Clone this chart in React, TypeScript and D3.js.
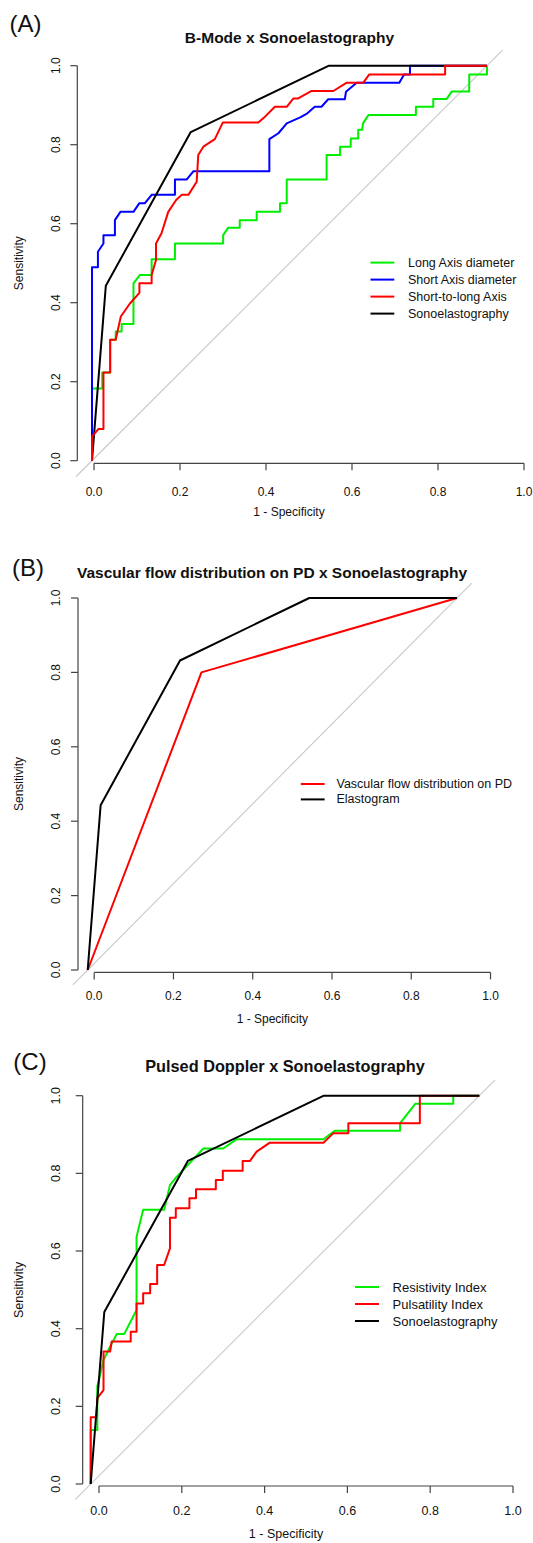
import React from 'react';
import * as d3 from 'd3';

type Pt = [number, number];

// ---------- DATA ----------
const tickValues = [0, 0.2, 0.4, 0.6, 0.8, 1.0];
const tickLabels = ['0.0', '0.2', '0.4', '0.6', '0.8', '1.0'];

// Sonoelastography / Elastogram curve (same in all panels)
const sonoCurve: Pt[] = [[0, 0], [0.035, 0.443], [0.25, 0.832], [0.6, 1], [1, 1]];

// Panel A
const longAxisA: Pt[] = [
  [0, 0], [0, 0.183], [0.026, 0.183], [0.026, 0.223], [0.046, 0.223], [0.046, 0.306], [0.06, 0.306],
  [0.06, 0.327], [0.075, 0.327], [0.075, 0.346], [0.105, 0.346], [0.105, 0.449], [0.121, 0.47],
  [0.151, 0.47], [0.151, 0.51], [0.21, 0.51], [0.21, 0.55], [0.332, 0.55], [0.332, 0.571],
  [0.345, 0.59], [0.374, 0.59], [0.374, 0.609], [0.417, 0.609], [0.417, 0.63], [0.476, 0.63],
  [0.476, 0.652], [0.493, 0.652], [0.493, 0.712], [0.594, 0.712], [0.594, 0.774], [0.628, 0.774],
  [0.628, 0.795], [0.655, 0.795], [0.655, 0.816], [0.674, 0.816], [0.674, 0.838], [0.684, 0.838],
  [0.686, 0.854], [0.7, 0.875], [0.82, 0.875], [0.82, 0.896], [0.864, 0.896], [0.864, 0.916],
  [0.898, 0.916], [0.911, 0.935], [0.955, 0.935], [0.955, 0.978], [1, 0.978], [1, 1],
];
const shortAxisA: Pt[] = [
  [0, 0], [0, 0.49], [0.015, 0.49], [0.015, 0.529], [0.029, 0.55], [0.029, 0.571], [0.058, 0.571],
  [0.058, 0.609], [0.072, 0.63], [0.105, 0.63], [0.12, 0.652], [0.134, 0.652], [0.151, 0.673],
  [0.21, 0.673], [0.21, 0.712], [0.24, 0.712], [0.257, 0.733], [0.449, 0.733], [0.449, 0.814],
  [0.472, 0.829], [0.493, 0.854], [0.527, 0.869], [0.543, 0.878], [0.564, 0.896], [0.581, 0.896],
  [0.598, 0.915], [0.64, 0.915], [0.643, 0.934], [0.67, 0.957], [0.778, 0.957], [0.79, 0.978],
  [0.805, 0.978], [0.805, 1], [1, 1],
];
const shortToLongA: Pt[] = [
  [0, 0], [0, 0.061], [0.016, 0.08], [0.029, 0.08], [0.029, 0.223], [0.046, 0.223], [0.046, 0.306],
  [0.06, 0.306], [0.073, 0.365], [0.096, 0.398], [0.12, 0.425], [0.12, 0.449], [0.151, 0.449],
  [0.151, 0.47], [0.162, 0.508], [0.162, 0.55], [0.176, 0.576], [0.193, 0.63], [0.213, 0.66],
  [0.227, 0.673], [0.244, 0.673], [0.265, 0.706], [0.269, 0.774], [0.282, 0.795], [0.311, 0.814],
  [0.331, 0.856], [0.421, 0.856], [0.438, 0.871], [0.463, 0.896], [0.493, 0.896], [0.51, 0.917],
  [0.522, 0.917], [0.556, 0.936], [0.611, 0.936], [0.645, 0.957], [0.687, 0.957], [0.702, 0.978],
  [0.894, 0.978], [0.894, 1], [1, 1],
];

// Panel B
const vascularB: Pt[] = [[0, 0], [0.308, 0.8], [1, 1]];

// Panel C
const resistivityC: Pt[] = [
  [0, 0], [0, 0.139], [0.017, 0.139], [0.017, 0.251], [0.033, 0.319], [0.05, 0.354], [0.067, 0.386],
  [0.086, 0.386], [0.118, 0.448], [0.118, 0.637], [0.135, 0.706], [0.189, 0.706], [0.204, 0.77],
  [0.221, 0.791], [0.29, 0.864], [0.341, 0.864], [0.376, 0.888], [0.599, 0.888], [0.629, 0.91],
  [0.796, 0.91], [0.796, 0.929], [0.835, 0.979], [0.933, 0.979], [0.933, 1], [1, 1],
];
const pulsatilityC: Pt[] = [
  [0, 0], [0, 0.172], [0.015, 0.172], [0.017, 0.221], [0.033, 0.242], [0.033, 0.341], [0.05, 0.341],
  [0.054, 0.367], [0.103, 0.367], [0.103, 0.392], [0.118, 0.392], [0.118, 0.465], [0.135, 0.465],
  [0.135, 0.491], [0.153, 0.491], [0.153, 0.515], [0.171, 0.515], [0.171, 0.564], [0.189, 0.564],
  [0.204, 0.607], [0.204, 0.686], [0.219, 0.686], [0.219, 0.71], [0.254, 0.71], [0.254, 0.736],
  [0.271, 0.736], [0.271, 0.759], [0.322, 0.759], [0.322, 0.783], [0.34, 0.783], [0.34, 0.807],
  [0.391, 0.807], [0.391, 0.832], [0.41, 0.832], [0.427, 0.856], [0.461, 0.879], [0.599, 0.879],
  [0.624, 0.903], [0.663, 0.903], [0.663, 0.929], [0.847, 0.929], [0.847, 1], [1, 1],
];

// ---------- LAYOUT ----------
const FONT = '"Liberation Sans", Arial, Helvetica, sans-serif';
const GREEN = '#00ee00';
const BLUE = '#0000ff';
const RED = '#ff0000';
const BLACK = '#000000';

interface Series { name: string; color: string; data: Pt[]; }
interface Panel {
  label: string; labelX: number; labelY: number;
  title: string; titleX: number; titleY: number; titleSize: number;
  dataX: [number, number]; dataY: [number, number]; axisX: [number, number];
  yAxisX: number; xAxisY: number; xTickLabelY: number; xTitleY: number;
  yTickLabelX: number; yTitleX: number; font: number;
  legend: { x1: number; x2: number; tx: number; y0: number; dy: number };
  draw: Series[]; legendItems: Series[];
}

const sA = {
  long: { name: 'Long Axis diameter', color: GREEN, data: longAxisA },
  short: { name: 'Short Axis diameter', color: BLUE, data: shortAxisA },
  stl: { name: 'Short-to-long Axis', color: RED, data: shortToLongA },
  sono: { name: 'Sonoelastography', color: BLACK, data: sonoCurve },
};
const sB = {
  vasc: { name: 'Vascular flow distribution on PD', color: RED, data: vascularB },
  elas: { name: 'Elastogram', color: BLACK, data: sonoCurve },
};
const sC = {
  ri: { name: 'Resistivity Index', color: GREEN, data: resistivityC },
  pi: { name: 'Pulsatility Index', color: RED, data: pulsatilityC },
  sono: { name: 'Sonoelastography', color: BLACK, data: sonoCurve },
};

const panels: Panel[] = [
  {
    label: '(A)', labelX: 25.5, labelY: 23,
    title: 'B-Mode x Sonoelastography', titleX: 289.5, titleY: 37, titleSize: 15.5,
    dataX: [92, 487], dataY: [460.7, 65.7], axisX: [94, 524],
    yAxisX: 77.3, xAxisY: 463.3, xTickLabelY: 492, xTitleY: 511.6,
    yTickLabelX: 56, yTitleX: 18.7, font: 12,
    legend: { x1: 370.5, x2: 394.3, tx: 408, y0: 262.6, dy: 17 },
    draw: [sA.long, sA.short, sA.sono, sA.stl],
    legendItems: [sA.long, sA.short, sA.stl, sA.sono],
  },
  {
    label: '(B)', labelX: 28, labelY: 567.5,
    title: 'Vascular flow distribution on PD x Sonoelastography', titleX: 272, titleY: 572.5, titleSize: 15.5,
    dataX: [87.7, 457], dataY: [970, 598], axisX: [94.2, 490.5],
    yAxisX: 78, xAxisY: 972.4, xTickLabelY: 996, xTitleY: 1019,
    yTickLabelX: 56, yTitleX: 18.7, font: 12,
    legend: { x1: 300.8, x2: 324.6, tx: 336.5, y0: 784, dy: 15.4 },
    draw: [sB.vasc, sB.elas],
    legendItems: [sB.vasc, sB.elas],
  },
  {
    label: '(C)', labelX: 30, labelY: 1061.5,
    title: 'Pulsed Doppler x Sonoelastography', titleX: 285, titleY: 1065.7, titleSize: 16.3,
    dataX: [90.7, 479.3], dataY: [1484, 1095.7], axisX: [99, 513],
    yAxisX: 82.7, xAxisY: 1486, xTickLabelY: 1511, xTitleY: 1534,
    yTickLabelX: 56, yTitleX: 18.7, font: 12.5,
    legend: { x1: 355, x2: 379, tx: 392.6, y0: 1287, dy: 17 },
    draw: [sC.ri, sC.pi, sC.sono],
    legendItems: [sC.ri, sC.pi, sC.sono],
  },
];

function RocPanel({ p }: { p: Panel }) {
  const x = d3.scaleLinear().domain([0, 1]).range(p.dataX);
  const y = d3.scaleLinear().domain([0, 1]).range(p.dataY);
  const xa = d3.scaleLinear().domain([0, 1]).range(p.axisX);
  const line = d3.line<Pt>().x((d) => x(d[0])).y((d) => y(d[1]));
  const axisColor = '#444';
  const yMid = (y(-0.04) + y(1.04)) / 2;
  const xMid = (xa(0) + xa(1)) / 2;
  return (
    <g fontFamily={FONT} fill="#111">
      <text x={p.labelX} y={p.labelY} fontSize={24} textAnchor="middle" dominantBaseline="central">{p.label}</text>
      <text x={p.titleX} y={p.titleY} fontSize={p.titleSize} fontWeight="bold" textAnchor="middle" dominantBaseline="central">{p.title}</text>
      {/* diagonal reference */}
      <line x1={x(-0.04)} y1={y(-0.04)} x2={x(1.04)} y2={y(1.04)} stroke="#c8c8c8" strokeWidth={1.1} />
      {/* y axis */}
      <line x1={p.yAxisX} x2={p.yAxisX} y1={y(0)} y2={y(1)} stroke={axisColor} strokeWidth={1.2} />
      {tickValues.map((t, i) => (
        <g key={'yt' + i}>
          <line x1={p.yAxisX - 7} x2={p.yAxisX} y1={y(t)} y2={y(t)} stroke={axisColor} strokeWidth={1.2} />
          <text transform={`translate(${p.yTickLabelX},${y(t)}) rotate(-90)`} fontSize={p.font} textAnchor="middle" dominantBaseline="central">{tickLabels[i]}</text>
        </g>
      ))}
      <text transform={`translate(${p.yTitleX},${yMid}) rotate(-90)`} fontSize={p.font} textAnchor="middle" dominantBaseline="central">Sensitivity</text>
      {/* x axis */}
      <line x1={xa(0)} x2={xa(1)} y1={p.xAxisY} y2={p.xAxisY} stroke={axisColor} strokeWidth={1.2} />
      {tickValues.map((t, i) => (
        <g key={'xt' + i}>
          <line x1={xa(t)} x2={xa(t)} y1={p.xAxisY} y2={p.xAxisY + 7} stroke={axisColor} strokeWidth={1.2} />
          <text x={xa(t)} y={p.xTickLabelY} fontSize={p.font} textAnchor="middle" dominantBaseline="central">{tickLabels[i]}</text>
        </g>
      ))}
      <text x={xMid - 20} y={p.xTitleY} fontSize={p.font} textAnchor="middle" dominantBaseline="central">1 - Specificity</text>
      {/* curves */}
      {p.draw.map((s) => (
        <path key={s.name} d={line(s.data) || ''} fill="none" stroke={s.color} strokeWidth={2} strokeLinejoin="round" />
      ))}
      {/* legend */}
      {p.legendItems.map((s, i) => (
        <g key={'lg' + s.name}>
          <line x1={p.legend.x1} x2={p.legend.x2} y1={p.legend.y0 + i * p.legend.dy} y2={p.legend.y0 + i * p.legend.dy} stroke={s.color} strokeWidth={2} />
          <text x={p.legend.tx} y={p.legend.y0 + i * p.legend.dy} fontSize={p.font + 0.5} dominantBaseline="central">{s.name}</text>
        </g>
      ))}
    </g>
  );
}

export default function App() {
  return (
    <div style={{ position: 'absolute', left: 0, top: 0, width: 533, height: 1543, overflow: 'hidden', background: '#fff' }}>
      <svg width={533} height={1543} viewBox="0 0 533 1543" style={{ display: 'block' }}>
        <rect x={0} y={0} width={533} height={1543} fill="#fff" />
        {panels.map((p) => <RocPanel key={p.label} p={p} />)}
      </svg>
    </div>
  );
}
